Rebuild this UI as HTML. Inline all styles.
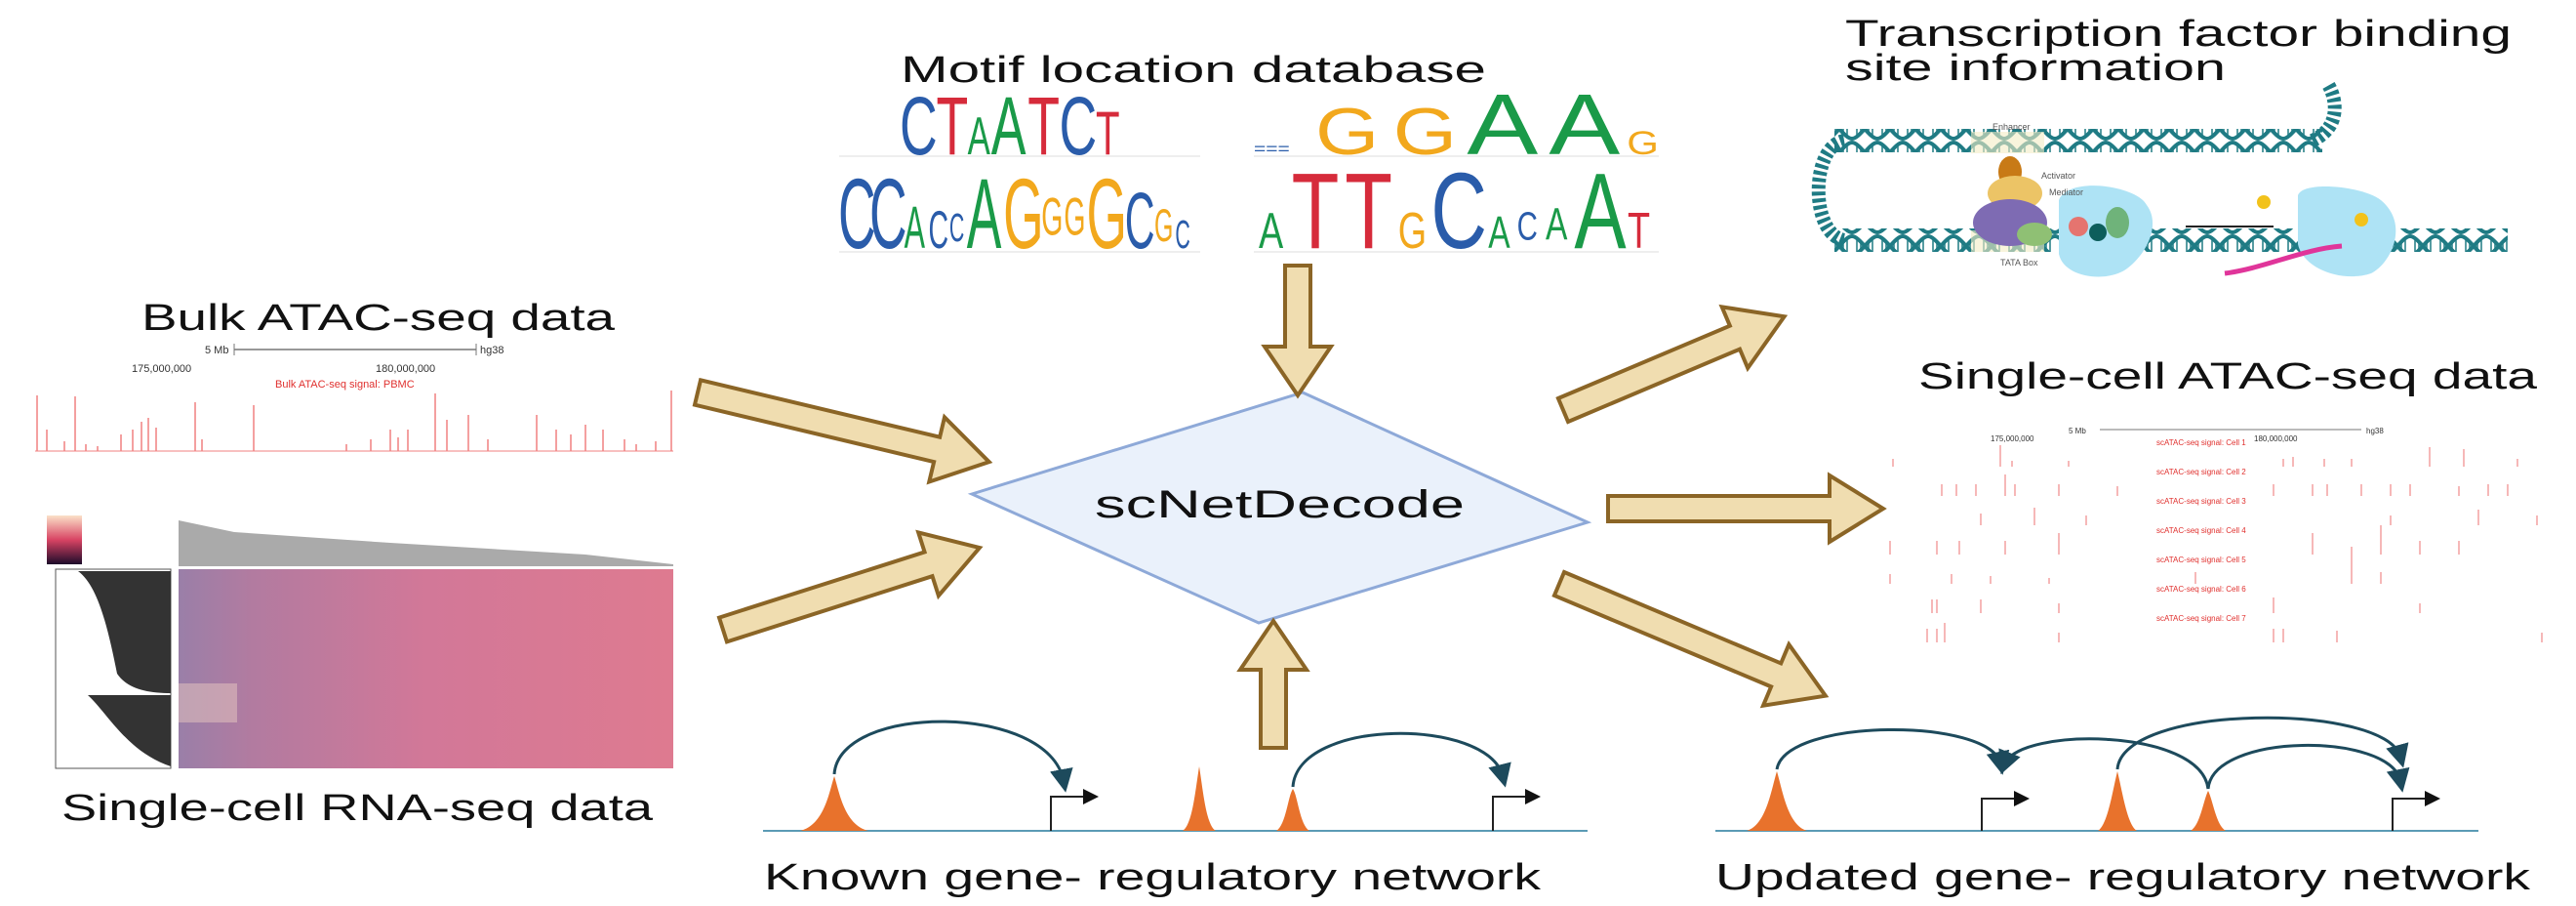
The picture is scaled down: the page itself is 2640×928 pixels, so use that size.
<!DOCTYPE html>
<html><head><meta charset="utf-8"><style>
html,body{margin:0;padding:0;background:#fff;}
svg{display:block;}
.t{font-family:"Liberation Sans",sans-serif;fill:#111;}
</style></head><body>
<svg width="2640" height="928" viewBox="0 0 2640 928" xmlns="http://www.w3.org/2000/svg">
<defs>
<pattern id="dna" width="26" height="24" patternUnits="userSpaceOnUse">
<path d="M0,2 C8,2 18,22 26,22 M0,22 C8,22 18,2 26,2" stroke="#1f7b84" stroke-width="4" fill="none"/>
<path d="M5,6 v12 M9,9 v6 M17,9 v6 M21,6 v12" stroke="#1f7b84" stroke-width="1.5"/>
</pattern>
<marker id="ah" markerWidth="8" markerHeight="8" refX="4" refY="4" orient="auto"><path d="M0,0 L8,4 L0,8 Z" fill="#1d4a5c"/></marker>
<marker id="ab" markerWidth="8" markerHeight="8" refX="6" refY="4" orient="auto"><path d="M0,0 L8,4 L0,8 Z" fill="#111"/></marker>
</defs>

<!-- Titles -->
<g class="t" font-size="38">
<text class="t" x="923" y="84" textLength="600" lengthAdjust="spacingAndGlyphs">Motif location database</text>
<text class="t" x="1891" y="47" textLength="683" lengthAdjust="spacingAndGlyphs">Transcription factor binding</text>
<text class="t" x="1891" y="82" textLength="390" lengthAdjust="spacingAndGlyphs">site information</text>
<text class="t" x="145" y="338" textLength="485" lengthAdjust="spacingAndGlyphs">Bulk ATAC-seq data</text>
<text class="t" x="1966" y="398" textLength="634" lengthAdjust="spacingAndGlyphs">Single-cell ATAC-seq data</text>
<text class="t" x="63" y="840" textLength="606" lengthAdjust="spacingAndGlyphs">Single-cell RNA-seq data</text>
<text class="t" x="783" y="911" textLength="796" lengthAdjust="spacingAndGlyphs">Known gene- regulatory network</text>
<text class="t" x="1758" y="911" textLength="835" lengthAdjust="spacingAndGlyphs">Updated gene- regulatory network</text>
</g>

<!-- Motif logos -->
<g font-family="Liberation Sans,sans-serif">
<line x1="860" y1="160" x2="1230" y2="160" stroke="#ddd"/>
<line x1="860" y1="258" x2="1230" y2="258" stroke="#ddd"/>
<line x1="1285" y1="160" x2="1700" y2="160" stroke="#ddd"/>
<line x1="1285" y1="258" x2="1700" y2="258" stroke="#ddd"/>
<g transform="translate(922,158) scale(1.34,2.1)" font-size="40">
<text x="0" y="0" fill="#2a5caa">C</text><text x="28" y="0" fill="#d62b3b">T</text><text x="52" y="0" fill="#1a9a48" font-size="26">A</text><text x="70" y="0" fill="#1a9a48">A</text><text x="98" y="0" fill="#d62b3b">T</text><text x="122" y="0" fill="#2a5caa">C</text><text x="150" y="0" fill="#d62b3b" font-size="30">T</text>
</g>
<g transform="translate(859,254) scale(1.78,3.4)" font-size="30">
<text x="0" y="0" fill="#2a5caa">C</text><text x="18" y="0" fill="#2a5caa">C</text><text x="38" y="0" fill="#1a9a48" font-size="18">A</text><text x="52" y="0" fill="#2a5caa" font-size="16">C</text><text x="64" y="-2" fill="#2a5caa" font-size="12">C</text><text x="74" y="0" fill="#1a9a48">A</text><text x="95" y="0" fill="#f2a81d">G</text><text x="117" y="-4" fill="#f2a81d" font-size="16">G</text><text x="130" y="-4" fill="#f2a81d" font-size="16">G</text><text x="143" y="0" fill="#f2a81d">G</text><text x="165" y="0" fill="#2a5caa" font-size="24">C</text><text x="182" y="-2" fill="#f2a81d" font-size="14">G</text><text x="194" y="0" fill="#2a5caa" font-size="12">C</text>
</g>
<g transform="translate(1285,158) scale(2.1,1.7)" font-size="40">
<text x="0" y="0" fill="#2a5caa" font-size="10">===</text><text x="30" y="0" fill="#f2a81d">G</text><text x="68" y="0" fill="#f2a81d">G</text><text x="104" y="0" fill="#1a9a48" font-size="52">A</text><text x="144" y="0" fill="#1a9a48" font-size="52">A</text><text x="182" y="0" fill="#f2a81d" font-size="20">G</text>
</g>
<g transform="translate(1290,254) scale(2.1,2.9)" font-size="30">
<text x="0" y="0" fill="#1a9a48" font-size="18">A</text><text x="16" y="0" fill="#d62b3b" font-size="38">T</text><text x="42" y="0" fill="#d62b3b" font-size="38">T</text><text x="68" y="0" fill="#f2a81d" font-size="18">G</text><text x="84" y="0" fill="#2a5caa" font-size="38">C</text><text x="112" y="0" fill="#1a9a48" font-size="16">A</text><text x="126" y="-3" fill="#2a5caa" font-size="14">C</text><text x="140" y="-3" fill="#1a9a48" font-size="16">A</text><text x="154" y="0" fill="#1a9a48" font-size="38">A</text><text x="180" y="0" fill="#d62b3b" font-size="18">T</text>
</g>
</g>

<!-- TF binding illustration -->
<g>
<rect x="1880" y="132" width="500" height="24" fill="url(#dna)"/>
<rect x="1880" y="234" width="690" height="24" fill="url(#dna)"/>
<path d="M1890,144 C1855,150 1855,240 1890,246" stroke="#1f7b84" stroke-width="14" fill="none" stroke-dasharray="4 3"/>
<path d="M2370,144 C2400,130 2395,100 2385,85" stroke="#1f7b84" stroke-width="14" fill="none" stroke-dasharray="4 3"/>
<rect x="2020" y="135" width="75" height="22" fill="#f4ecc5" opacity="0.6"/>
<rect x="2020" y="236" width="75" height="22" fill="#f4ecc5" opacity="0.6"/>
<path d="M2110,205 C2120,180 2190,190 2200,210 C2215,230 2200,260 2180,275 C2160,290 2115,285 2110,260 Z" fill="#aee3f5"/>
<path d="M2355,200 C2360,185 2420,190 2440,205 C2470,230 2450,270 2430,280 C2400,290 2360,275 2355,250 Z" fill="#aee3f5"/>
<ellipse cx="2060" cy="176" rx="12" ry="16" fill="#c87a16"/>
<ellipse cx="2065" cy="198" rx="28" ry="18" fill="#ecc466"/>
<ellipse cx="2060" cy="228" rx="38" ry="24" fill="#7e6bb3"/>
<ellipse cx="2085" cy="240" rx="18" ry="12" fill="#8fc074"/>
<circle cx="2130" cy="232" r="10" fill="#e5746f"/>
<circle cx="2150" cy="238" r="9" fill="#0d5e5c"/>
<ellipse cx="2170" cy="228" rx="12" ry="16" fill="#6fb37a"/>
<circle cx="2320" cy="207" r="7" fill="#f2c21b"/>
<circle cx="2420" cy="225" r="7" fill="#f2c21b"/>
<path d="M2240,232 H2330" stroke="#222" stroke-width="2"/>
<path d="M2280,280 C2320,275 2360,255 2400,252" stroke="#e0359a" stroke-width="5" fill="none"/>
<text x="2042" y="133" font-size="9" fill="#555" font-family="Liberation Sans">Enhancer</text>
<text x="2092" y="183" font-size="9" fill="#555" font-family="Liberation Sans">Activator</text>
<text x="2100" y="200" font-size="9" fill="#555" font-family="Liberation Sans">Mediator</text>
<text x="2050" y="272" font-size="9" fill="#555" font-family="Liberation Sans">TATA Box</text>
</g>

<!-- Bulk ATAC -->
<g font-family="Liberation Sans,sans-serif">
<line x1="240" y1="358" x2="488" y2="358" stroke="#777" stroke-width="1.5"/>
<line x1="240" y1="352" x2="240" y2="364" stroke="#777"/><line x1="488" y1="352" x2="488" y2="364" stroke="#777"/>
<text x="210" y="362" font-size="11" fill="#333">5 Mb</text>
<text x="492" y="362" font-size="11" fill="#333">hg38</text>
<text x="135" y="381" font-size="11" fill="#333">175,000,000</text>
<text x="385" y="381" font-size="11" fill="#333">180,000,000</text>
<text x="282" y="397" font-size="11" fill="#e0302e">Bulk ATAC-seq signal: PBMC</text>
<g stroke="#f08080" stroke-width="1.5">
<line x1="36" y1="462" x2="690" y2="462" stroke-width="1"/>
<line x1="38" y1="462" x2="38" y2="405"/><line x1="48" y1="462" x2="48" y2="440"/><line x1="66" y1="462" x2="66" y2="452"/><line x1="77" y1="462" x2="77" y2="406"/><line x1="88" y1="462" x2="88" y2="455"/><line x1="100" y1="462" x2="100" y2="457"/><line x1="124" y1="462" x2="124" y2="445"/><line x1="136" y1="462" x2="136" y2="440"/><line x1="145" y1="462" x2="145" y2="432"/><line x1="152" y1="462" x2="152" y2="428"/><line x1="160" y1="462" x2="160" y2="438"/><line x1="200" y1="462" x2="200" y2="412"/><line x1="207" y1="462" x2="207" y2="450"/><line x1="260" y1="462" x2="260" y2="415"/><line x1="355" y1="462" x2="355" y2="455"/><line x1="380" y1="462" x2="380" y2="450"/><line x1="400" y1="462" x2="400" y2="440"/><line x1="408" y1="462" x2="408" y2="448"/><line x1="418" y1="462" x2="418" y2="440"/><line x1="446" y1="462" x2="446" y2="403"/><line x1="458" y1="462" x2="458" y2="430"/><line x1="480" y1="462" x2="480" y2="425"/><line x1="500" y1="462" x2="500" y2="450"/><line x1="550" y1="462" x2="550" y2="425"/><line x1="570" y1="462" x2="570" y2="440"/><line x1="585" y1="462" x2="585" y2="445"/><line x1="600" y1="462" x2="600" y2="435"/><line x1="618" y1="462" x2="618" y2="440"/><line x1="640" y1="462" x2="640" y2="450"/><line x1="652" y1="462" x2="652" y2="455"/><line x1="672" y1="462" x2="672" y2="452"/><line x1="688" y1="462" x2="688" y2="400"/>
</g>
</g>

<!-- scRNA heatmap -->
<defs>
<linearGradient id="hm" x1="0" x2="1"><stop offset="0" stop-color="#9a7fa8"/><stop offset="0.15" stop-color="#b27ba0"/><stop offset="0.5" stop-color="#d27898"/><stop offset="1" stop-color="#de7a90"/></linearGradient>
<linearGradient id="cb" x1="0" y1="0" x2="0" y2="1"><stop offset="0" stop-color="#fbe1c8"/><stop offset="0.5" stop-color="#d84363"/><stop offset="1" stop-color="#1c0b2a"/></linearGradient>
</defs>
<rect x="48" y="528" width="36" height="50" fill="url(#cb)"/>
<path d="M183,533 L240,545 L400,556 L600,568 L690,578 L690,580 L183,580 Z" fill="#aaa"/>
<rect x="183" y="583" width="507" height="204" fill="url(#hm)"/>
<rect x="183" y="700" width="60" height="40" fill="#e8c7c0" opacity="0.5"/>
<rect x="57" y="583" width="118" height="204" fill="#fff" stroke="#555"/>
<path d="M80,585 C100,600 110,640 120,690 C130,705 150,710 175,710 L175,585 Z" fill="#333"/>
<path d="M90,712 C110,730 130,770 175,785 L175,712 Z" fill="#333"/>

<!-- scATAC -->
<g font-family="Liberation Sans,sans-serif">
<line x1="2152" y1="440" x2="2420" y2="440" stroke="#777"/>
<text x="2120" y="444" font-size="8" fill="#333">5 Mb</text><text x="2425" y="444" font-size="8" fill="#333">hg38</text>
<text x="2040" y="452" font-size="8" fill="#333">175,000,000</text><text x="2310" y="452" font-size="8" fill="#333">180,000,000</text>
<g font-size="8" fill="#e0302e">
<text x="2210" y="456">scATAC-seq signal: Cell 1</text>
<text x="2210" y="486">scATAC-seq signal: Cell 2</text>
<text x="2210" y="516">scATAC-seq signal: Cell 3</text>
<text x="2210" y="546">scATAC-seq signal: Cell 4</text>
<text x="2210" y="576">scATAC-seq signal: Cell 5</text>
<text x="2210" y="606">scATAC-seq signal: Cell 6</text>
<text x="2210" y="636">scATAC-seq signal: Cell 7</text>
</g>
<g stroke="#f4a0a0" stroke-width="1.5">
<path d="M1940,478v-8M2050,478v-22M2062,478v-6M2120,478v-6M2340,478v-8M2350,478v-10M2382,478v-8M2410,478v-8M2490,478v-20M2525,478v-18M2580,478v-8"/>
<path d="M1990,508v-12M2005,508v-12M2025,508v-12M2055,508v-22M2065,508v-12M2110,508v-12M2170,508v-10M2330,508v-12M2370,508v-12M2385,508v-12M2420,508v-12M2450,508v-12M2470,508v-12M2520,508v-10M2550,508v-12M2570,508v-12"/>
<path d="M2030,538v-12M2085,538v-18M2138,538v-10M2450,538v-10M2540,538v-16M2600,538v-10"/>
<path d="M1937,568v-14M1985,568v-14M2008,568v-14M2055,568v-14M2110,568v-22M2370,568v-22M2440,568v-30M2480,568v-14M2520,568v-14"/>
<path d="M1937,598v-10M2000,598v-10M2040,598v-8M2100,598v-6M2250,598v-12M2410,598v-38M2440,598v-12"/>
<path d="M1980,628v-14M1985,628v-14M2030,628v-14M2110,628v-10M2330,628v-16M2480,628v-10"/>
<path d="M1975,658v-14M1985,658v-14M1993,658v-20M2110,658v-10M2330,658v-14M2340,658v-14M2395,658v-12M2605,658v-10"/>
</g>
</g>

<!-- Diamond -->
<polygon points="996,506 1335,402 1627,535 1290,638" fill="#eaf1fb" stroke="#8ea9d8" stroke-width="3"/>
<text class="t" x="1122" y="530" font-size="40" textLength="379" lengthAdjust="spacingAndGlyphs">scNetDecode</text>

<!-- Block arrows -->
<g fill="#f0ddb0" stroke="#8b6526" stroke-width="4" stroke-linejoin="miter">
<polygon transform="translate(715,402) rotate(13.4)" points="0,-13 252,-13 252,-34 307,0 252,34 252,13 0,13"/>
<polygon transform="translate(741,645) rotate(-17.7)" points="0,-13 221,-13 221,-34 276,0 221,34 221,13 0,13"/>
<polygon transform="translate(1330,272) rotate(90)" points="0,-13 83,-13 83,-34 133,0 83,34 83,13 0,13"/>
<polygon transform="translate(1305,766) rotate(-90)" points="0,-13 80,-13 80,-34 130,0 80,34 80,13 0,13"/>
<polygon transform="translate(1602,420) rotate(-22.9)" points="0,-13 191,-13 191,-34 246,0 191,34 191,13 0,13"/>
<polygon transform="translate(1648,521) rotate(0)" points="0,-13 227,-13 227,-34 282,0 227,34 227,13 0,13"/>
<polygon transform="translate(1598,598) rotate(22.8)" points="0,-13 241,-13 241,-34 296,0 241,34 241,13 0,13"/>
</g>

<!-- Known network -->
<g>
<line x1="782" y1="851" x2="1627" y2="851" stroke="#5b9bb5" stroke-width="2"/>
<path d="M820,851 C845,845 850,810 855,795 C860,810 865,845 890,851 Z" fill="#e8722c"/>
<path d="M1212,851 C1222,845 1225,810 1229,785 C1233,810 1236,845 1246,851 Z" fill="#e8722c"/>
<path d="M1308,851 C1318,845 1320,815 1325,808 C1330,815 1332,845 1342,851 Z" fill="#e8722c"/>
<path d="M1077,851 V816 H1122" stroke="#222" stroke-width="2" fill="none" marker-end="url(#ab)"/>
<path d="M1530,851 V816 H1575" stroke="#222" stroke-width="2" fill="none" marker-end="url(#ab)"/>
<path d="M855,793 C860,720 1075,720 1090,800" stroke="#1d4a5c" stroke-width="3" fill="none" marker-end="url(#ah)"/>
<path d="M1325,806 C1330,735 1525,735 1540,795" stroke="#1d4a5c" stroke-width="3" fill="none" marker-end="url(#ah)"/>
</g>

<!-- Updated network -->
<g>
<line x1="1758" y1="851" x2="2540" y2="851" stroke="#5b9bb5" stroke-width="2"/>
<path d="M1790,851 C1810,845 1815,810 1821,790 C1827,810 1832,845 1852,851 Z" fill="#e8722c"/>
<path d="M2150,851 C2160,845 2165,810 2170,790 C2175,810 2180,845 2190,851 Z" fill="#e8722c"/>
<path d="M2245,851 C2255,845 2258,820 2263,810 C2268,820 2271,845 2281,851 Z" fill="#e8722c"/>
<path d="M2031,851 V818 H2076" stroke="#222" stroke-width="2" fill="none" marker-end="url(#ab)"/>
<path d="M2452,851 V818 H2497" stroke="#222" stroke-width="2" fill="none" marker-end="url(#ab)"/>
<path d="M1821,788 C1830,735 2040,735 2050,782" stroke="#1d4a5c" stroke-width="3" fill="none" marker-end="url(#ah)"/>
<path d="M2263,808 C2255,745 2070,745 2055,782" stroke="#1d4a5c" stroke-width="3" fill="none" marker-end="url(#ah)"/>
<path d="M2170,788 C2175,720 2445,720 2460,775" stroke="#1d4a5c" stroke-width="3" fill="none" marker-end="url(#ah)"/>
<path d="M2263,808 C2268,750 2450,750 2460,800" stroke="#1d4a5c" stroke-width="3" fill="none" marker-end="url(#ah)"/>
</g>
</svg>
</body></html>
